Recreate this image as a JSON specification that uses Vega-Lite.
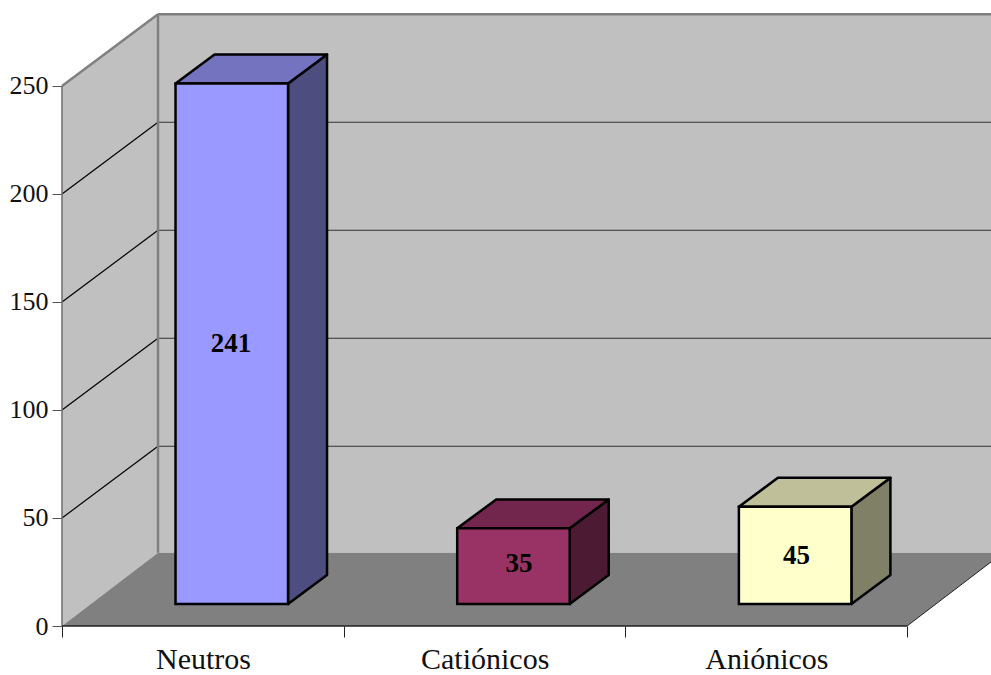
{
  "$schema": "https://vega.github.io/schema/vega-lite/v6.json",
  "width": 929,
  "height": 626,
  "padding": {"left": 62, "top": 0, "right": 0, "bottom": 49},
  "autosize": "none",
  "background": "#ffffff",
  "config": {"view": {"stroke": null}},
  "params": [
    {"name": "depthX", "value": 0.3408},
    {"name": "depthY", "value": 33.2},
    {"name": "floorY", "value": 33.9},
    {"name": "barStart", "value": 0.403},
    {"name": "barWidth", "value": 0.3994},
    {"name": "barLift", "value": 10.2},
    {"name": "barDX", "value": 0.1385},
    {"name": "barDY", "value": 13.4}
  ],
  "datasets": {
    "compuestos": [
      {"categoria": "Neutros", "valor": 241},
      {"categoria": "Catiónicos", "valor": 35},
      {"categoria": "Aniónicos", "valor": 45}
    ],
    "niveles": [
      {"nivel": 50},
      {"nivel": 100},
      {"nivel": 150},
      {"nivel": 200},
      {"nivel": 250}
    ],
    "profundidades": [
      {"p": 0},
      {"p": 1}
    ]
  },
  "encoding": {
    "x": {
      "field": "px",
      "type": "quantitative",
      "stack": null,
      "title": null,
      "scale": {"domain": [0, 3.298], "nice": false, "zero": false},
      "axis": {
        "values": [0, 1, 2, 3],
        "grid": false,
        "domain": false,
        "tickColor": "#222222",
        "tickSize": 11,
        "labelExpr": "['Neutros', 'Catiónicos', 'Aniónicos', ''][datum.value]",
        "labelOffset": 141,
        "labelFont": "Liberation Serif",
        "labelFontSize": 30,
        "labelColor": "#111111",
        "labelPadding": 7,
        "labelFlush": false,
        "labelBound": false,
        "labelOverlap": false,
        "labelAlign": "center"
      }
    },
    "y": {
      "field": "py",
      "type": "quantitative",
      "stack": null,
      "title": null,
      "scale": {"domain": [0, 289.8], "nice": false, "zero": false},
      "axis": {
        "values": [0, 50, 100, 150, 200, 250],
        "grid": false,
        "domain": false,
        "tickColor": "#555555",
        "tickSize": 10,
        "labelFont": "Liberation Serif",
        "labelFontSize": 26,
        "labelColor": "#111111",
        "labelPadding": 4,
        "format": "d",
        "labelOverlap": false,
        "labelBound": false,
        "labelFlush": false
      }
    }
  },
  "layer": [
    {
      "data": {"values": [{"pared": "fondo"}]},
      "transform": [
        {"calculate": "depthX", "as": "px"},
        {"calculate": "3.4", "as": "px2"},
        {"calculate": "floorY", "as": "py"},
        {"calculate": "250 + depthY", "as": "py2"}
      ],
      "mark": {"type": "rect", "fill": "#c0c0c0"},
      "encoding": {"x2": {"field": "px2"}, "y2": {"field": "py2"}}
    },
    {
      "data": {"name": "profundidades"},
      "transform": [
        {"calculate": "datum.p * depthX", "as": "px"},
        {"calculate": "datum.p * floorY", "as": "py"},
        {"calculate": "250 + datum.p * depthY", "as": "py2"}
      ],
      "mark": {"type": "area", "fill": "#c0c0c0", "orient": "vertical"},
      "encoding": {"y2": {"field": "py2"}}
    },
    {
      "data": {"name": "profundidades"},
      "transform": [
        {"calculate": "datum.p * depthX", "as": "px"},
        {"calculate": "3 + datum.p * depthX", "as": "px2"},
        {"calculate": "datum.p * floorY", "as": "py"}
      ],
      "mark": {"type": "area", "fill": "#808080", "orient": "horizontal"},
      "encoding": {"x2": {"field": "px2"}}
    },
    {
      "data": {"name": "niveles"},
      "transform": [
        {"calculate": "0", "as": "px"},
        {"calculate": "depthX", "as": "px2"},
        {"calculate": "datum.nivel", "as": "py"},
        {"calculate": "datum.nivel + depthY", "as": "py2"}
      ],
      "mark": {"type": "rule"},
      "encoding": {
        "x2": {"field": "px2"},
        "y2": {"field": "py2"},
        "stroke": {"condition": {"test": "datum.nivel == 250", "value": "#808080"}, "value": "#000000"},
        "strokeWidth": {"condition": {"test": "datum.nivel == 250", "value": 2.5}, "value": 1.2}
      }
    },
    {
      "data": {"name": "niveles"},
      "transform": [
        {"calculate": "depthX", "as": "px"},
        {"calculate": "3.4", "as": "px2"},
        {"calculate": "datum.nivel + depthY", "as": "py"},
        {"calculate": "datum.nivel + depthY", "as": "py2"}
      ],
      "mark": {"type": "rule"},
      "encoding": {
        "x2": {"field": "px2"},
        "y2": {"field": "py2"},
        "stroke": {"condition": {"test": "datum.nivel == 250", "value": "#808080"}, "value": "#333333"},
        "strokeWidth": {"condition": {"test": "datum.nivel == 250", "value": 2.5}, "value": 1}
      }
    },
    {
      "data": {"values": [{"nivel": 250}]},
      "transform": [
        {"calculate": "depthX", "as": "px"},
        {"calculate": "depthX", "as": "px2"},
        {"calculate": "floorY", "as": "py"},
        {"calculate": "datum.nivel + depthY", "as": "py2"}
      ],
      "mark": {"type": "rule", "stroke": "#808080", "strokeWidth": 2.5},
      "encoding": {"x2": {"field": "px2"}, "y2": {"field": "py2"}}
    },
    {
      "data": {"values": [{"nivel": 250}]},
      "transform": [
        {"calculate": "0", "as": "px"},
        {"calculate": "0", "as": "px2"},
        {"calculate": "0", "as": "py"},
        {"calculate": "datum.nivel", "as": "py2"}
      ],
      "mark": {"type": "rule", "stroke": "#6e6e6e", "strokeWidth": 1.5},
      "encoding": {"x2": {"field": "px2"}, "y2": {"field": "py2"}}
    },
    {
      "data": {"values": [{"borde": "base"}]},
      "transform": [
        {"calculate": "0", "as": "px"},
        {"calculate": "3", "as": "px2"},
        {"calculate": "0", "as": "py"},
        {"calculate": "0", "as": "py2"}
      ],
      "mark": {"type": "rule", "stroke": "#222222", "strokeWidth": 1.5},
      "encoding": {"x2": {"field": "px2"}, "y2": {"field": "py2"}}
    },
    {
      "data": {"values": [{"borde": "suelo"}]},
      "transform": [
        {"calculate": "3", "as": "px"},
        {"calculate": "3 + depthX", "as": "px2"},
        {"calculate": "0", "as": "py"},
        {"calculate": "floorY", "as": "py2"}
      ],
      "mark": {"type": "rule", "stroke": "#222222", "strokeWidth": 1},
      "encoding": {"x2": {"field": "px2"}, "y2": {"field": "py2"}}
    },
    {
      "data": {"name": "compuestos"},
      "transform": [
        {"calculate": "[0, 1]", "as": "arista"},
        {"flatten": ["arista"]},
        {"calculate": "indexof(['Neutros', 'Catiónicos', 'Aniónicos'], datum.categoria)", "as": "orden"},
        {"calculate": "datum.orden + barStart + barWidth + datum.arista * barDX", "as": "px"},
        {"calculate": "barLift + datum.arista * barDY", "as": "py"},
        {"calculate": "datum.valor + barLift + datum.arista * barDY", "as": "py2"}
      ],
      "mark": {"type": "area", "orient": "vertical", "stroke": "#000000", "strokeWidth": 2.5, "strokeJoin": "round"},
      "encoding": {
        "y2": {"field": "py2"},
        "color": {
          "field": "categoria",
          "type": "nominal",
          "legend": null,
          "scale": {"domain": ["Neutros", "Catiónicos", "Aniónicos"], "range": ["#4d4d80", "#4d1a33", "#808066"]}
        }
      }
    },
    {
      "data": {"name": "compuestos"},
      "transform": [
        {"calculate": "[0, 1]", "as": "arista"},
        {"flatten": ["arista"]},
        {"calculate": "indexof(['Neutros', 'Catiónicos', 'Aniónicos'], datum.categoria)", "as": "orden"},
        {"calculate": "datum.orden + barStart + datum.arista * barDX", "as": "px"},
        {"calculate": "datum.orden + barStart + barWidth + datum.arista * barDX", "as": "px2"},
        {"calculate": "datum.valor + barLift + datum.arista * barDY", "as": "py"}
      ],
      "mark": {"type": "area", "orient": "horizontal", "stroke": "#000000", "strokeWidth": 2.5, "strokeJoin": "round"},
      "encoding": {
        "x2": {"field": "px2"},
        "color": {
          "field": "categoria",
          "type": "nominal",
          "legend": null,
          "scale": {"domain": ["Neutros", "Catiónicos", "Aniónicos"], "range": ["#7373bf", "#73264d", "#bfbf99"]}
        }
      }
    },
    {
      "data": {"name": "compuestos"},
      "transform": [
        {"calculate": "indexof(['Neutros', 'Catiónicos', 'Aniónicos'], datum.categoria)", "as": "orden"},
        {"calculate": "datum.orden + barStart", "as": "px"},
        {"calculate": "datum.orden + barStart + barWidth", "as": "px2"},
        {"calculate": "barLift", "as": "py"},
        {"calculate": "datum.valor + barLift", "as": "py2"}
      ],
      "mark": {"type": "rect", "stroke": "#000000", "strokeWidth": 2.5},
      "encoding": {
        "x2": {"field": "px2"},
        "y2": {"field": "py2"},
        "color": {
          "field": "categoria",
          "type": "nominal",
          "legend": null,
          "scale": {"domain": ["Neutros", "Catiónicos", "Aniónicos"], "range": ["#9999ff", "#993366", "#ffffcc"]}
        }
      }
    },
    {
      "data": {"name": "compuestos"},
      "transform": [
        {"calculate": "indexof(['Neutros', 'Catiónicos', 'Aniónicos'], datum.categoria)", "as": "orden"},
        {"calculate": "datum.orden + barStart + barWidth / 2 + [-0.003, 0.02, 0.005][datum.orden]", "as": "px"},
        {"calculate": "datum.valor / 2 + barLift + [0, 0.8, -0.4][datum.orden]", "as": "py"}
      ],
      "mark": {
        "type": "text",
        "font": "Liberation Serif",
        "fontSize": 27,
        "fontWeight": "bold",
        "fill": "#000000",
        "align": "center",
        "baseline": "middle"
      },
      "encoding": {"text": {"field": "valor", "type": "quantitative"}}
    }
  ],
  "resolve": {"scale": {"color": "independent"}}
}
